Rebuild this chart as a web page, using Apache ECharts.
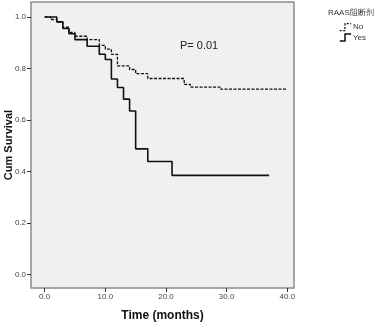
<!DOCTYPE html>
<html>
<head>
<meta charset="utf-8">
<script src="https://cdn.jsdelivr.net/npm/echarts@6/dist/echarts.min.js"></script>
<style>
  html, body { margin: 0; padding: 0; background: #fff; }
  #chart { width: 376px; height: 323px; }
</style>
</head>
<body>
<div id="chart"></div>
<script>
// time (months) and cumulative survival
const noTime = [0, 1, 2, 3, 4, 5, 7, 9, 10, 11, 12, 14, 15, 17, 23, 24, 29, 40];
const noSurv = [1.0, 0.99, 0.98, 0.96, 0.94, 0.925, 0.912, 0.89, 0.875, 0.855, 0.81, 0.796, 0.78, 0.761, 0.738, 0.728, 0.72, 0.72];
const yesTime = [0, 2, 3, 4, 5, 7, 9, 10, 11, 12, 13, 14, 15, 17, 21, 37];
const yesSurv = [1.0, 0.981, 0.955, 0.935, 0.912, 0.886, 0.855, 0.835, 0.759, 0.726, 0.681, 0.635, 0.488, 0.439, 0.385, 0.385];
const xTicks = [0, 10, 20, 30, 40];
const yTicks = [0, 0.2, 0.4, 0.6, 0.8, 1.0];

const pair = (t, s) => t.map((v, i) => [v, s[i]]);

const chart = echarts.init(document.getElementById('chart'));
const font = 'Liberation Sans, Arial, sans-serif';
// little step drawn as the legend key
const stepIcon = 'path://M0,9 L6,9 L6,1 L13,1';

const option = {
    animation: false,
    textStyle: {fontFamily: font},
    title: [
        {text: 'RAAS阻断剂', left: 323, top: 4, textStyle: {fontSize: 8, fontWeight: 'normal', color: '#333', fontFamily: font}},
        {text: 'P= 0.01', left: 175, top: 35, textStyle: {fontSize: 11, fontWeight: 'normal', color: '#222', fontFamily: font}}
    ],
    legend: {
        orient: 'vertical',
        left: 334,
        top: 18,
        itemWidth: 13,
        itemHeight: 7,
        itemGap: 2,
        textStyle: {fontSize: 8, color: '#333', padding: [0, 0, 0, -4]},
        data: [
            {name: 'No', icon: stepIcon, itemStyle: {color: 'transparent', borderColor: '#111', borderWidth: 1.3, borderType: [2, 1.5]}},
            {name: 'Yes', icon: stepIcon, itemStyle: {color: 'transparent', borderColor: '#111', borderWidth: 1.5}}
        ]
    },
    grid: {
        left: 31, top: 2, right: 82, bottom: 35,
        outerBoundsMode: 'none',
        containLabel: false,
        show: true,
        backgroundColor: '#f0f0f0',
        borderColor: '#8a8a8a',
        borderWidth: 1.5
    },
    xAxis: {
        type: 'value',
        min: -2.25,
        max: 41.1,
        name: 'Time (months)',
        nameLocation: 'middle',
        nameGap: 22,
        nameTextStyle: {fontSize: 12, fontWeight: 'bold', color: '#111'},
        axisLine: {show: false, onZero: false},
        splitLine: {show: false},
        axisTick: {show: true, length: 4, lineStyle: {color: '#333'}, customValues: xTicks},
        axisLabel: {fontSize: 8, color: '#444', margin: 5, customValues: xTicks, formatter: v => v.toFixed(1)}
    },
    yAxis: {
        type: 'value',
        min: -0.052,
        max: 1.058,
        name: 'Cum Survival',
        nameLocation: 'middle',
        nameGap: 17,
        nameMoveOverlap: false,
        nameTextStyle: {fontSize: 11, fontWeight: 'bold', color: '#111'},
        axisLine: {show: false, onZero: false},
        splitLine: {show: false},
        axisTick: {show: true, length: 4, lineStyle: {color: '#333'}, customValues: yTicks},
        axisLabel: {fontSize: 8, color: '#444', margin: 5, customValues: yTicks, formatter: v => v.toFixed(1)}
    },
    series: [
        {
            name: 'No',
            type: 'line',
            step: 'end',
            symbol: 'none',
            data: pair(noTime, noSurv),
            lineStyle: {color: '#111', width: 1.3, type: [3, 1.5]},
            itemStyle: {color: '#111'}
        },
        {
            name: 'Yes',
            type: 'line',
            step: 'end',
            symbol: 'none',
            data: pair(yesTime, yesSurv),
            lineStyle: {color: '#111', width: 1.6},
            itemStyle: {color: '#111'}
        }
    ]
};
chart.setOption(option);
</script>
</body>
</html>
